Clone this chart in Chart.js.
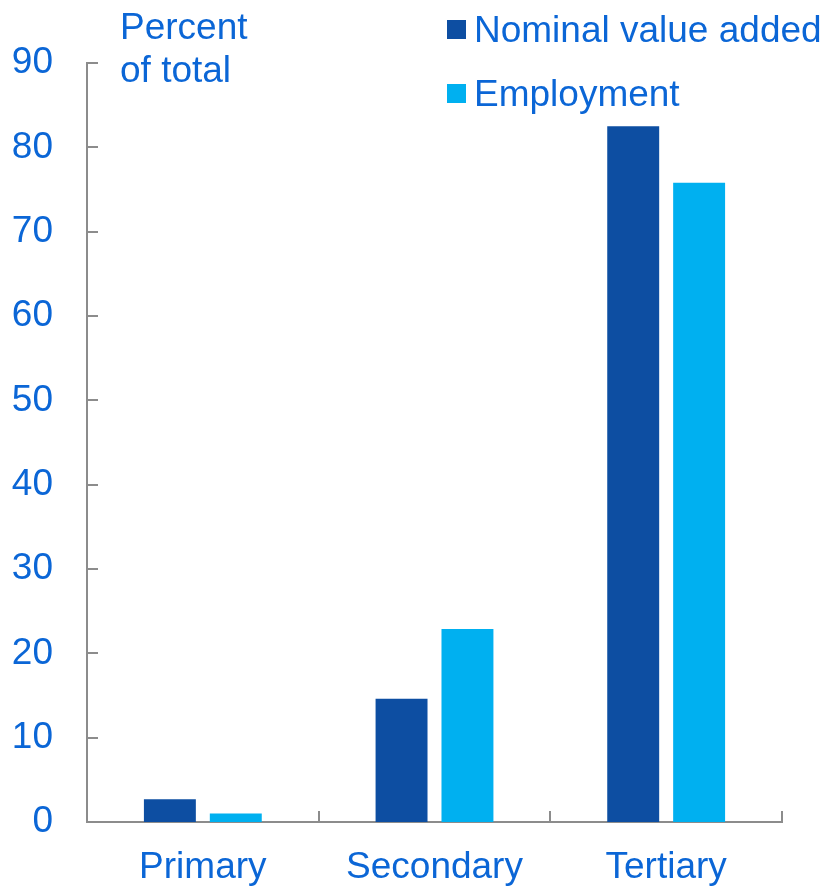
<!DOCTYPE html>
<html>
<head>
<meta charset="utf-8">
<title>Value added and employment by sector</title>
<script src="https://cdn.jsdelivr.net/npm/chart.js@4/dist/chart.umd.min.js"></script>
<style>
  html, body { margin: 0; padding: 0; background: #fff; }
  #wrap { width: 829px; height: 886px; }
</style>
</head>
<body>
<div id="wrap"><canvas id="sectorChart" width="829" height="886"></canvas></div>
<script>
// Sector shares, percent of total
const categories = ['Primary', 'Secondary', 'Tertiary'];
const valueAdded = [2.7, 14.6, 82.5];
const employment = [1.0, 22.9, 75.8];
const yMin = 0, yMax = 90, yStep = 10;

const textBlue = '#0b66d6';
const darkBlue = '#0d4ea2';
const lightBlue = '#00b0f0';
const axisGrey = '#8c8c8c';
const fontFamily = '"Liberation Sans", Arial, sans-serif';
const fontSize = 37;

// inward tick marks, unit title and stacked legend
const decorations = {
    id: 'decorations',
    afterDraw(chart) {
        const ctx = chart.ctx;
        const x = chart.scales.x, y = chart.scales.y;
        const area = chart.chartArea;
        ctx.save();
        ctx.strokeStyle = axisGrey;
        ctx.lineWidth = 2;
        ctx.beginPath();
        y.ticks.forEach(t => {
            const py = Math.round(y.getPixelForValue(t.value));
            ctx.moveTo(area.left, py);
            ctx.lineTo(area.left + 11, py);
        });
        const step = (area.right - area.left) / categories.length;
        for (let i = 1; i <= categories.length; i++) {
            const px = Math.round(area.left + step * i);
            ctx.moveTo(px, area.bottom);
            ctx.lineTo(px, area.bottom - 11);
        }
        ctx.stroke();

        ctx.font = fontSize + 'px ' + fontFamily;
        ctx.fillStyle = textBlue;
        ctx.textBaseline = 'alphabetic';
        ctx.textAlign = 'left';
        ctx.fillText('Percent', 120, 39);
        ctx.fillText('of total', 120, 82);

        const rows = [39, 103];
        chart.data.datasets.forEach((ds, i) => {
            ctx.fillStyle = ds.backgroundColor;
            ctx.fillRect(447, rows[i] - 19, 19, 19);
            ctx.fillStyle = textBlue;
            ctx.fillText(ds.label, 474, rows[i] + 3);
        });
        ctx.restore();
    }
};

new Chart(document.getElementById('sectorChart').getContext('2d'), {
    type: 'bar',
    data: {
        labels: categories,
        datasets: [
            { label: 'Nominal value added', data: valueAdded, backgroundColor: darkBlue },
            { label: 'Employment', data: employment, backgroundColor: lightBlue }
        ]
    },
    options: {
        responsive: false,
        animation: false,
        layout: { padding: { top: 63, right: 47, left: 0, bottom: 0 } },
        datasets: {
            bar: { categoryPercentage: 0.569, barPercentage: 0.788 }
        },
        plugins: {
            legend: { display: false },
            tooltip: { enabled: false }
        },
        scales: {
            x: {
                grid: { display: false, drawTicks: false },
                border: { display: true, color: axisGrey, width: 2 },
                ticks: {
                    color: textBlue,
                    font: { family: fontFamily, size: fontSize },
                    padding: 24
                },
                afterFit(scale) { scale.height = 64; }
            },
            y: {
                min: yMin,
                max: yMax,
                grid: { display: false, drawTicks: false },
                border: { display: true, color: axisGrey, width: 2 },
                ticks: {
                    stepSize: yStep,
                    color: textBlue,
                    font: { family: fontFamily, size: fontSize },
                    padding: 34
                },
                afterFit(scale) { scale.width = 87; }
            }
        }
    },
    plugins: [decorations]
});
</script>
</body>
</html>
